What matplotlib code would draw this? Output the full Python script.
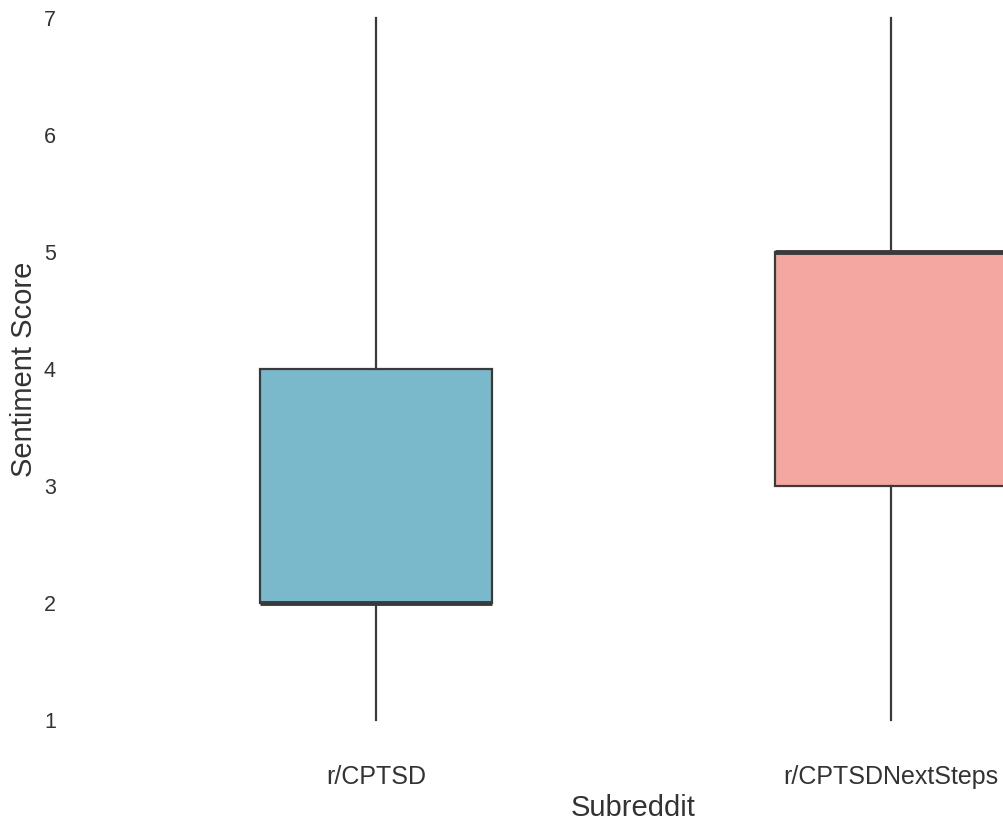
import matplotlib
matplotlib.use("Agg")
import matplotlib.pyplot as plt

categories = ["r/CPTSD", "r/CPTSDNextSteps"]
whislo = [1, 1]
q1 = [2, 3]
med = [2, 5]
q3 = [4, 5]
whishi = [7, 7]
colors = ["#7ab8cc", "#f4a7a0"]

plt.rcParams['font.family'] = ['Liberation Sans', 'DejaVu Sans']

fig = plt.figure(figsize=(10.04, 8.21), dpi=100)
ax = fig.add_axes([118.5/1004, (821-755.1)/821, 1030/1004, 772.2/821])

stats = [dict(label=c, whislo=lo, q1=a, med=m, q3=b, whishi=hi, fliers=[])
         for c, lo, a, m, b, hi in zip(categories, whislo, q1, med, q3, whishi)]
line_col = "#3a3a3a"
bp = ax.bxp(stats, positions=range(len(categories)), widths=0.45, patch_artist=True,
            showcaps=False,
            boxprops=dict(edgecolor=line_col, linewidth=1.6),
            whiskerprops=dict(color=line_col, linewidth=1.6),
            medianprops=dict(color=line_col, linewidth=3.5))
for p, c in zip(bp['boxes'], colors):
    p.set_facecolor(c)

ax.set_xlim(-0.5, 1.5)
ax.set_ylim(0.7, 7.3)
for s in ax.spines.values():
    s.set_visible(False)
ax.tick_params(length=0, colors="#333333")
ax.tick_params(axis='y', pad=45, labelsize=15.5)
ax.tick_params(axis='x', pad=7, labelsize=18)
ax.set_yticks(range(1, 8))
ax.set_xlabel("Subreddit", fontsize=21, color="#333333", labelpad=4)
ax.set_ylabel("Sentiment Score", fontsize=21, color="#333333")
ax.yaxis.set_label_coords((38 - 118.5) / 1030, 0.5)
fig.savefig("out.png", dpi=100)
